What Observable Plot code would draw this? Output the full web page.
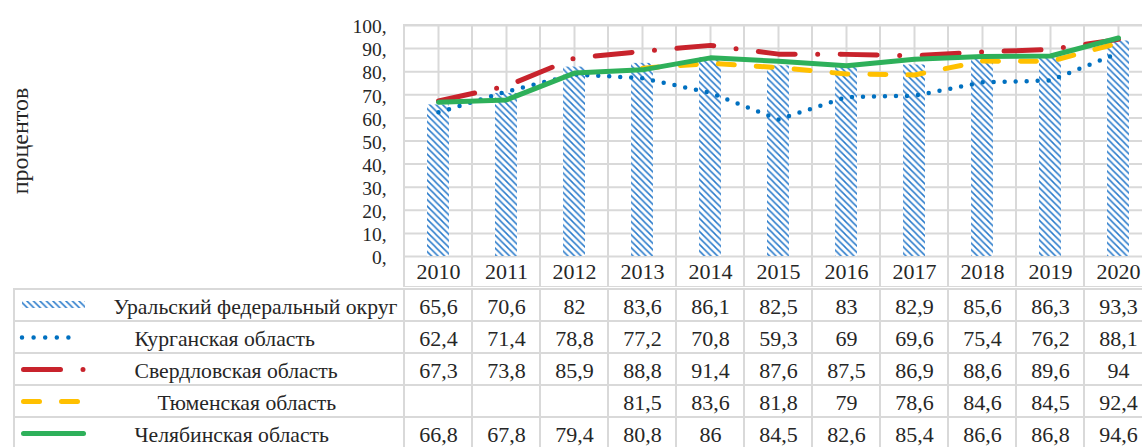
<!DOCTYPE html>
<html><head><meta charset="utf-8">
<script src="https://cdn.jsdelivr.net/npm/d3@7"></script>
<script src="https://cdn.jsdelivr.net/npm/@observablehq/plot@0.6"></script>
<style>
html,body{margin:0;padding:0;background:#fff;overflow:hidden}
#wrap{width:1142px;height:447px;overflow:hidden}
#wrap svg{display:block;max-width:none}
</style></head><body><div id="wrap"></div>
<script>
// ---- data ----
const years = ["2010","2011","2012","2013","2014","2015","2016","2017","2018","2019","2020"];
const seriesNames = ["Уральский федеральный округ","Курганская область","Свердловская область","Тюменская область","Челябинская область"];
const ufo     = [65.6,70.6,82,83.6,86.1,82.5,83,82.9,85.6,86.3,93.3];
const kurgan  = [62.4,71.4,78.8,77.2,70.8,59.3,69,69.6,75.4,76.2,88.1];
const sverdl  = [67.3,73.8,85.9,88.8,91.4,87.6,87.5,86.9,88.6,89.6,94];
const tyumen  = [null,null,null,81.5,83.6,81.8,79,78.6,84.6,84.5,92.4];
const chelyab = [66.8,67.8,79.4,80.8,86,84.5,82.6,85.4,86.6,86.8,94.6];
const yTicks = [0,10,20,30,40,50,60,70,80,90,100];
const yLabel = "процентов";

// ---- build tables ----
const seriesValues = [ufo, kurgan, sverdl, tyumen, chelyab];
const table = seriesNames.flatMap((name, s) => years.map((year, i) => ({series: name, year, value: seriesValues[s][i]})));
const of = name => table.filter(d => d.series === name && d.value != null);
const fmt = v => String(v).replace(".", ",");

const FONT = "'Liberation Serif','Times New Roman',serif";
const GRID = "#d9d9d9";
const styles = [
  null,
  {stroke: "#0070c0", strokeWidth: 4.5, strokeDasharray: "0 11", strokeLinecap: "round"},
  {stroke: "#c8232c", strokeWidth: 5, strokeDasharray: "37 22.5 0 22.5", strokeLinecap: "round"},
  {stroke: "#ffc000", strokeWidth: 5, strokeDasharray: "16 22", strokeLinecap: "round"},
  {stroke: "#2eb05a", strokeWidth: 5, strokeLinecap: "round", strokeLinejoin: "round"}
];
const swatchStyles = [
  null,
  {stroke: "#0070c0", strokeWidth: 4.5, strokeDasharray: "0 11.6", strokeLinecap: "round", x1: 22, x2: 80},
  {stroke: "#c8232c", strokeWidth: 5, strokeDasharray: "37 22.5 0 30", strokeLinecap: "round", x1: 23.5, x2: 83.5},
  {stroke: "#ffc000", strokeWidth: 5, strokeDasharray: "16 22", strokeLinecap: "round", x1: 23.5, x2: 77.5},
  {stroke: "#2eb05a", strokeWidth: 5, strokeLinecap: "round", x1: 23.5, x2: 83.5}
];
const labelX = [113, 134, 134, 157, 134];

function addHatch(svg, id) {
  const defs = d3.select(svg).insert("defs", ":first-child");
  const p = defs.append("pattern").attr("id", id).attr("patternUnits", "userSpaceOnUse")
    .attr("width", 6.5).attr("height", 6.5);
  p.append("rect").attr("width", 6.5).attr("height", 6.5).attr("fill", "white");
  p.append("path").attr("d", "M-1,-1L7.5,7.5M-4.25,2.25L2.25,8.75M2.25,-4.25L8.75,2.25")
    .attr("stroke", "#2a7bcb").attr("stroke-width", 1.5).attr("fill", "none");
}

const W = 1152, ML = 403;

const chart = Plot.plot({
  width: W, height: 287, marginLeft: ML, marginRight: 0, marginTop: 25, marginBottom: 31,
  style: {fontFamily: FONT, color: "#262626", background: "white"},
  x: {type: "band", domain: years, padding: 0, label: null},
  y: {domain: [0, 100], label: null},
  marks: [
    Plot.ruleY(yTicks, {stroke: GRID, strokeWidth: 2}),
    Plot.ruleX(years, {x: d => d, y1: 0, y2: 100, stroke: GRID, strokeWidth: 2}),
    Plot.cell(years, {x: d => d, fill: "none", stroke: GRID, strokeWidth: 2, insetBottom: -31}),
    Plot.barY(of(seriesNames[0]), {x: "year", y: "value", fill: "url(#hatchA)", insetLeft: 23, insetRight: 23}),
    ...[1, 2, 3, 4].map(s => Plot.line(of(seriesNames[s]), {x: "year", y: "value", ...styles[s]})),
    Plot.axisX({tickSize: 0, tickPadding: 7, fontSize: 22, label: null}),
    Plot.axisY({ticks: yTicks, tickFormat: d => d + ",", tickSize: 0, tickPadding: 17, fontSize: 19.5, dy: 1.5, label: null}),
    Plot.text([yLabel], {frameAnchor: "left", dx: 20 - ML, rotate: -90, fontSize: 24, textAnchor: "middle"})
  ]
});
addHatch(chart, "hatchA");

const tbl = Plot.plot({
  width: W, height: 160, marginLeft: ML, marginRight: 0, marginTop: 0, marginBottom: -4.5,
  style: {fontFamily: FONT, color: "#262626", background: "white"},
  x: {type: "band", domain: years, padding: 0, axis: null},
  y: {type: "band", domain: seriesNames, padding: 0, axis: null},
  marks: [
    Plot.cell(seriesNames, {y: d => d, fill: "none", stroke: GRID, strokeWidth: 2, insetLeft: 14 - ML}),
    Plot.cell(table, {x: "year", y: "series", fill: "none", stroke: GRID, strokeWidth: 2}),
    Plot.text(table.filter(d => d.value != null), {x: "year", y: "series", text: d => fmt(d.value), fontSize: 22, dy: 1.5}),
    ...seriesNames.map((n, i) => Plot.text([n], {y: d => d, frameAnchor: "left", textAnchor: "start", dx: labelX[i] - ML, fontSize: 21.7, dy: 1.5})),
    Plot.cell([seriesNames[0]], {y: d => d, fill: "url(#hatchB)", insetLeft: 22 - ML, insetRight: W - 85, insetTop: 12, insetBottom: 13}),
    ...[1, 2, 3, 4].map(s => {
      const {x1, x2, ...st} = swatchStyles[s];
      return Plot.ruleY([seriesNames[s]], {y: d => d, insetLeft: x1 - ML, insetRight: W - x2, ...st});
    })
  ]
});
addHatch(tbl, "hatchB");

document.getElementById("wrap").append(chart, tbl);
</script></body></html>
